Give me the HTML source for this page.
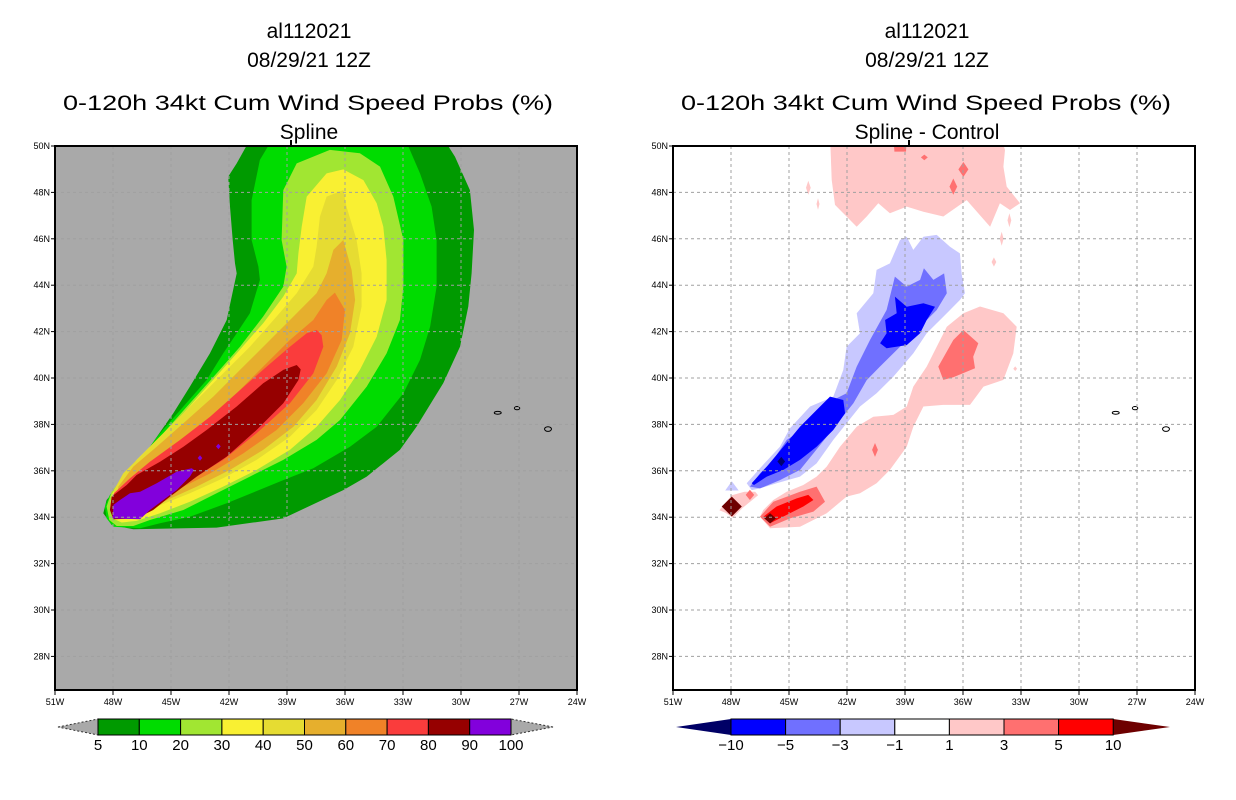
<!DOCTYPE html>
<html><head><meta charset="utf-8">
<style>
html,body{margin:0;padding:0;background:#fff;}
svg{display:block;font-family:"Liberation Sans","DejaVu Sans",sans-serif;}
</style></head>
<body>
<svg id="chart" width="1236" height="800" viewBox="0 0 1236 800" xmlns="http://www.w3.org/2000/svg">
  <defs>
    <clipPath id="clipL"><rect x="55" y="146" width="522" height="544"/></clipPath>
    <clipPath id="clipR"><rect x="673" y="146" width="522" height="544"/></clipPath>
  </defs>
  <g font-size="21" text-anchor="middle" fill="#000">
    <text x="309" y="38">al112021</text>
    <text x="309" y="67">08/29/21 12Z</text>
    <text x="308" y="110" textLength="490" lengthAdjust="spacingAndGlyphs">0-120h 34kt Cum Wind Speed Probs (%)</text>
    <text x="309" y="139">Spline</text>
  </g>
  <g font-size="21" text-anchor="middle" fill="#000">
    <text x="927" y="38">al112021</text>
    <text x="927" y="67">08/29/21 12Z</text>
    <text x="926" y="110" textLength="490" lengthAdjust="spacingAndGlyphs">0-120h 34kt Cum Wind Speed Probs (%)</text>
    <text x="927" y="139">Spline - Control</text>
  </g>
  <rect x="55" y="146" width="522" height="544" fill="#a9a9a9"/>
  <g id="leftContours" clip-path="url(#clipL)"></g>
  <rect x="673" y="146" width="522" height="544" fill="#ffffff"/>
  <g id="rightContours" clip-path="url(#clipR)"></g>
  <g id="axes"></g>
  <g id="bars"></g>
</svg>
<script>
// ---------- axis data ----------
const lonTicks = [51,48,45,42,39,36,33,30,27,24];
const latTicks = [50,48,46,44,42,40,38,36,34,32,30,28];
const leftLevels = [5,10,20,30,40,50,60,70,80,90,100];
const leftColors = ["#009a00","#00dc00","#a1e632","#f9f032","#e6dc32","#e6af2d","#f08228","#fa3c3c","#960000","#8200dc"];
const rightLevels = [-10,-5,-3,-1,1,3,5,10];
const rightColors = ["#0000ff","#7070ff","#c8c8ff","#ffffff","#ffc8c8","#ff7070","#ff0000"];

// ---------- left panel contour polygons (lon W, lat N) ----------
const p05 = [[41.1,50.5],[41.1,50],[41.6,49.25],[42.04,48.68],[41.95,47.39],[41.81,45.95],[41.69,44.94],[41.6,44.51],[41.86,43.51],[42.12,42.5],[42.99,41.06],[44.02,39.63],[44.88,38.48],[46.09,37.04],[47.29,35.75],[48.33,34.74],[48.5,34.17],[48.07,33.67],[46.95,33.48],[42.64,33.55],[39.19,33.95],[36.09,35.17],[34.88,35.75],[33.16,36.9],[32.3,37.9],[30.92,39.77],[30.05,41.35],[29.62,43.08],[29.45,44.51],[29.33,46.38],[29.54,48.1],[30.31,49.54],[30.66,50],[30.66,50.5]];
const p10 = [[39.97,50.5],[39.97,50],[40.4,49.4],[40.83,47.67],[40.83,45.95],[40.48,44.8],[40.4,44.23],[40.92,42.79],[41.6,41.93],[42.3,41.06],[43.16,39.91],[44.36,38.77],[45.57,37.62],[46.6,36.47],[47.47,35.6],[48.16,34.96],[48.42,34.46],[48.33,33.95],[47.98,33.59],[46.6,33.52],[45.57,33.74],[44.02,34.02],[42.12,34.6],[39.19,35.6],[37.64,36.11],[35.74,37.04],[34.36,37.9],[32.98,39.34],[32.12,40.78],[31.6,42.21],[31.26,43.94],[31.26,45.95],[31.52,47.39],[32.12,48.82],[32.73,50],[32.73,50.5]];
const p20 = [[38.5,49.25],[39.19,48.1],[39.28,45.95],[39.02,44.8],[39.19,43.94],[40.23,42.65],[41.43,41.35],[42.64,40.2],[44.02,38.91],[45.4,37.62],[46.6,36.61],[47.47,35.75],[48.07,35.1],[48.33,34.46],[48.19,33.88],[47.81,33.62],[46.95,33.62],[46.09,33.88],[44.36,34.31],[42.64,35.03],[40.92,35.75],[39.19,36.47],[37.47,37.33],[36.26,38.19],[34.88,39.63],[33.85,41.06],[33.16,42.5],[32.98,43.94],[32.98,45.95],[33.5,47.82],[34.19,49.11],[35.23,49.69],[36.78,49.83]];
const p30 = [[36.95,48.82],[37.98,47.82],[38.24,46.52],[38.41,45.37],[38.5,44.51],[39.19,43.51],[40.23,42.36],[41.6,41.06],[42.98,39.77],[44.36,38.48],[45.74,37.33],[46.78,36.47],[47.64,35.6],[48.07,34.96],[48.16,34.46],[48.02,33.95],[47.55,33.77],[46.78,33.84],[45.57,34.17],[44.02,34.67],[42.3,35.32],[40.57,36.04],[38.85,36.9],[37.47,37.9],[36.26,39.05],[35.23,40.35],[34.36,41.78],[33.85,43.36],[33.85,45.08],[34.02,46.52],[34.36,47.53],[35.05,48.53],[36.09,48.99]];
const p40 = [[36.09,48.1],[36.95,47.82],[37.3,46.95],[37.47,45.66],[37.64,44.8],[38.5,43.65],[39.54,42.65],[40.92,41.35],[42.3,40.2],[43.85,38.91],[45.23,37.76],[46.43,36.75],[47.47,35.89],[47.95,35.17],[48.04,34.46],[47.86,34.02],[47.12,33.98],[45.74,34.46],[44.02,35.03],[42.3,35.68],[40.57,36.47],[38.85,37.47],[37.47,38.62],[36.43,39.91],[35.57,41.35],[35.14,43.08],[35.14,44.51],[35.4,45.95],[35.92,47.39]];
const p50 = [[36.09,45.95],[36.6,45.52],[36.95,44.51],[37.47,43.65],[38.5,42.79],[39.88,41.64],[41.26,40.49],[42.81,39.2],[44.36,38.05],[45.74,37.04],[46.95,36.18],[47.72,35.32],[47.9,34.53],[47.69,34.1],[46.78,34.17],[45.4,34.67],[43.67,35.32],[41.95,36.04],[40.23,36.9],[38.67,37.9],[37.47,39.05],[36.43,40.49],[35.74,41.93],[35.48,43.36],[35.66,44.66]];
const p60 = [[36.52,43.68],[36.95,43.36],[37.64,42.5],[38.85,41.64],[40.23,40.49],[41.6,39.34],[43.16,38.19],[44.71,37.19],[46.09,36.32],[47.12,35.6],[47.78,34.89],[47.78,34.31],[47.29,34.2],[46.09,34.6],[44.71,35.17],[42.98,35.89],[41.26,36.75],[39.54,37.76],[38.16,38.91],[36.95,40.2],[36.17,41.64],[36.0,42.93]];
const p70 = [[37.47,42.07],[37.98,41.93],[38.85,41.35],[40.05,40.49],[41.43,39.48],[42.98,38.33],[44.53,37.33],[46.09,36.39],[47.12,35.68],[47.95,35.03],[48.07,34.38],[47.81,33.99],[46.86,34.17],[45.74,34.74],[44.02,35.6],[42.3,36.47],[40.57,37.62],[38.85,38.91],[37.64,40.2],[37.12,41.35],[37.21,41.85]];
const p80 = [[38.5,40.56],[39.19,40.35],[40.23,39.77],[41.6,38.77],[43.16,37.76],[44.36,37.04],[45.57,36.39],[46.78,35.82],[47.29,35.39],[48.07,34.89],[48.16,34.31],[47.98,33.91],[46.78,33.95],[45.92,34.31],[45.05,34.89],[43.67,35.75],[42.12,36.61],[40.57,37.76],[39.19,38.91],[38.41,39.91],[38.29,40.37]];
const p90 = [[43.93,36.11],[44.71,35.96],[45.74,35.46],[46.6,35.1],[47.12,35.03],[47.64,34.74],[47.98,34.53],[48.02,33.95],[46.6,33.91],[46.09,34.31],[45.4,34.74],[44.71,35.17],[44.02,35.75],[43.81,36.04]];
const p90dots = [[43.5,36.55],[42.55,37.05]];

// ---------- right panel difference polygons ----------
const rPink1 = [[42.88,50.5],[42.79,48.54],[42.62,47.46],[41.5,46.52],[40.98,46.96],[40.38,47.53],[39.78,47.1],[38.91,47.39],[38.05,47.17],[37.02,46.96],[35.81,47.67],[34.6,46.52],[34.09,47.53],[33.57,47.24],[33.05,47.53],[33.74,48.25],[33.91,49.11],[33.83,49.83],[34.09,50.5]];
const rPink2 = [[46.5,34.02],[45.98,33.52],[44.43,33.59],[43.05,34.17],[42.02,34.89],[41.33,35.03],[40.47,35.46],[39.78,36.04],[38.91,37.04],[38.57,37.9],[38.05,38.77],[37.02,38.84],[35.64,38.84],[34.94,39.63],[33.91,39.92],[33.4,41.06],[33.22,42.21],[33.91,42.79],[35.12,43.08],[35.98,42.79],[36.84,42.21],[37.36,41.35],[37.88,40.49],[38.57,39.63],[38.91,38.77],[39.6,38.41],[40.64,38.33],[41.5,37.9],[42.36,37.04],[43.05,36.18],[43.57,35.75],[44.26,35.39],[45.12,35.1],[45.81,34.74],[46.33,34.31]];
const rPink3 = [[48.6,34.3],[47.96,34.95],[47.3,35.1],[46.75,35.1],[46.6,34.95],[47.4,34.4],[47.9,33.98],[48.3,34.2]];
const rMed1 = [[37.02,39.92],[37.28,40.49],[36.5,41.64],[35.98,42.07],[35.21,41.5],[35.47,40.92],[35.38,40.42],[36.5,40.03]];
const rMed2 = [[46.5,34.02],[45.81,34.67],[44.43,35.1],[43.57,35.32],[43.14,34.67],[43.74,34.24],[44.95,33.95],[45.98,33.59]];
const rMed3 = [[39.6,50.5],[38.9,50.5],[38.95,49.76],[39.55,49.76]];
const rRed1 = [[46.33,34.02],[45.64,34.46],[44.6,34.81],[44.0,34.96],[43.74,34.74],[44.26,34.46],[45.12,34.1],[45.98,33.74]];
const rBlue1 = [[47.19,35.46],[46.5,36.11],[45.47,37.04],[44.95,37.83],[43.91,38.77],[42.71,39.2],[42.19,40.35],[42.02,41.35],[41.33,41.93],[41.5,42.79],[40.64,43.65],[40.47,44.66],[39.78,44.94],[39.26,45.95],[38.91,46.09],[38.57,45.52],[38.05,46.09],[37.36,46.17],[36.67,45.66],[36.16,45.37],[36.07,44.51],[35.9,43.65],[36.16,43.36],[36.84,42.79],[37.88,41.93],[38.57,41.06],[39.6,40.06],[40.47,39.34],[41.33,38.77],[42.02,38.05],[42.71,37.33],[43.57,36.32],[44.43,35.75],[45.64,35.46],[46.5,35.24],[46.93,35.17]];
const rBlue2 = [[47.02,35.32],[46.5,35.89],[45.81,36.47],[45.12,37.33],[44.09,37.9],[43.05,38.91],[42.02,39.34],[41.5,40.49],[40.81,41.64],[39.95,42.93],[39.52,44.37],[38.91,43.94],[38.22,44.23],[38.02,44.73],[37.53,44.23],[36.98,44.51],[36.84,43.65],[37.36,42.93],[38.22,42.21],[39.26,41.35],[40.3,40.49],[40.98,39.91],[41.67,38.91],[42.36,38.19],[43.05,37.47],[43.74,36.75],[44.43,36.04],[45.47,35.6],[46.5,35.24]];
const rBlue3a = [[46.93,35.46],[46.15,36.18],[45.29,37.04],[44.43,37.9],[43.57,38.62],[42.88,39.2],[42.19,39.05],[42.1,38.48],[42.71,37.76],[43.57,37.04],[44.43,36.47],[45.29,36.04],[46.15,35.75],[46.81,35.39]];
const rBlue3b = [[40.29,41.5],[39.95,41.93],[40.03,42.5],[39.43,42.79],[39.52,43.51],[38.91,43.07],[38.05,43.22],[37.45,43.07],[37.88,42.5],[38.22,41.93],[38.91,41.42],[39.95,41.28]];
const rLightBlueTri = [[47.96,35.55],[47.6,35.15],[48.3,35.15]];
// small diamonds: lon, lat, halfwidth(deg lon), halfheight(deg lat)
const rPinkSpecks = [[44.0,48.2,0.12,0.3],[43.5,47.5,0.08,0.25],[34.0,46.0,0.1,0.3],[34.4,45.0,0.12,0.2],[33.6,46.8,0.1,0.3],[33.3,40.4,0.1,0.1]];
const rMedSpecks = [[35.98,48.99,0.26,0.32],[36.5,48.25,0.2,0.35],[38.0,49.51,0.18,0.12],[40.55,36.9,0.15,0.3],[47.02,34.96,0.22,0.22]];
const rDarkSpecks = [[47.96,34.46,0.52,0.43],[45.98,33.95,0.3,0.22]];
const rNavySpecks = [[45.4,36.4,0.2,0.2]];

// ---------- projection ----------
function xL(lon){ return 55 + (51 - lon) * 522 / 27; }
function xR(lon){ return 673 + (51 - lon) * 522 / 27; }
function yM(lat){ return 146 + (50 - lat) * 23.2; }

const NS = "http://www.w3.org/2000/svg";
function mk(tag, attrs, parent){
  const e = document.createElementNS(NS, tag);
  for (const k in attrs) e.setAttribute(k, attrs[k]);
  parent.appendChild(e);
  return e;
}
function poly(pts, fx, fill, parent, name){
  const d = pts.map(p => fx(p[0]).toFixed(1) + "," + yM(p[1]).toFixed(1)).join(" ");
  const e = mk("polygon", {points: d, fill: fill}, parent);
  
  
  return e;
}
function diamond(s, fx, fill, parent, name){
  const pts = [[s[0], s[1]+s[3]],[s[0]-s[2], s[1]],[s[0], s[1]-s[3]],[s[0]+s[2], s[1]]];
  return poly(pts, fx, fill, parent, name);
}

// left contours
const L = document.getElementById("leftContours");
const leftPolys = [p05,p10,p20,p30,p40,p50,p60,p70,p80,p90];
leftPolys.forEach((p, i) => {
  poly(p, xL, leftColors[i], L, "contour-" + leftLevels[i] + "-pct");
});
p90dots.forEach(d => diamond([d[0], d[1], 0.12, 0.12], xL, leftColors[9], L, "contour-90-pct-spot"));

// right contours
const R = document.getElementById("rightContours");
poly(rPink1, xR, rightColors[4], R, "positive-1-3-north");
poly(rPink2, xR, rightColors[4], R, "positive-1-3-south");
poly(rPink3, xR, rightColors[4], R, "positive-1-3-tail");
rPinkSpecks.forEach(s => diamond(s, xR, rightColors[4], R, "positive-1-3-speck"));
poly(rMed1, xR, rightColors[5], R, "positive-3-5-east");
poly(rMed2, xR, rightColors[5], R, "positive-3-5-tail");
poly(rMed3, xR, rightColors[5], R, "positive-3-5-top");
rMedSpecks.forEach(s => diamond(s, xR, rightColors[5], R, "positive-3-5-speck"));
poly(rRed1, xR, rightColors[6], R, "positive-5-10-tail");
rDarkSpecks.forEach(s => diamond(s, xR, "#6e0000", R, "positive-over-10-spot"));
poly(rBlue1, xR, rightColors[2], R, "negative-1-3");
poly(rLightBlueTri, xR, rightColors[2], R, "negative-1-3-speck");
poly(rBlue2, xR, rightColors[1], R, "negative-3-5");
poly(rBlue3a, xR, rightColors[0], R, "negative-5-10-south");
poly(rBlue3b, xR, rightColors[0], R, "negative-5-10-north");
rNavySpecks.forEach(s => diamond(s, xR, "#000070", R, "negative-under-10-spot"));

// islands (Azores-like outlines)
const islands = [[28.1,38.5,0.18,0.06],[27.1,38.7,0.14,0.07],[25.5,37.8,0.18,0.1]];
[[xL,L],[xR,R]].forEach(([fx, g]) => {
  islands.forEach(s => {
    const e = mk("ellipse", {cx: fx(s[0]), cy: yM(s[1]), rx: s[2]*19.33, ry: s[3]*23.2, fill: "none", stroke: "#000", "stroke-width": 1}, g);
    
    
  });
});

// axes, grids, frames
const A = document.getElementById("axes");
[[xL,55],[xR,673]].forEach(([fx, x0], pi) => {
  const side = pi === 0 ? "left" : "right";
  const g = mk("g", {}, A);
  
  
  lonTicks.forEach(lon => {
    const x = fx(lon);
    if (lon < 51 && lon > 24) {
      const gl = mk("line", {x1: x, y1: 146, x2: x, y2: 690, stroke: "#a0a0a0", "stroke-width": 1, "stroke-dasharray": "3,3"}, g);
      
      
    }
    const tk = mk("line", {x1: x, y1: 690, x2: x, y2: 695, stroke: "#000", "stroke-width": 1}, g);
    
    
    const t = mk("text", {x: x, y: 705, "font-size": 9, "text-anchor": "middle", fill: "#000"}, g);
    t.textContent = lon + "W";
    
    
  });
  latTicks.forEach(lat => {
    const y = yM(lat);
    if (lat < 50) {
      const gl = mk("line", {x1: x0, y1: y, x2: x0 + 522, y2: y, stroke: "#a0a0a0", "stroke-width": 1, "stroke-dasharray": "3,3"}, g);
      
      
    }
    const tk = mk("line", {x1: x0 - 4, y1: y, x2: x0, y2: y, stroke: "#000", "stroke-width": 1}, g);
    
    
    const t = mk("text", {x: x0 - 5, y: y + 3, "font-size": 9, "text-anchor": "end", fill: "#000"}, g);
    t.textContent = lat + "N";
    
    
  });
  const topTick = mk("line", {x1: fx(39) + 4, y1: 140, x2: fx(39) + 4, y2: 146, stroke: "#000", "stroke-width": 2}, g);
  
  
  const fr = mk("rect", {x: x0, y: 146, width: 522, height: 544, fill: "none", stroke: "#000", "stroke-width": 2}, g);
  
  
});

// colorbars
const B = document.getElementById("bars");
function colorbar(x0, w, n, colors, lowTri, highTri, tipL, tipR, levels, name, triStroke){
  const g = mk("g", {}, B);
  
  
  const yt = 719, yb = 735, ym = 727;
  const lt = mk("polygon", {points: `${tipL},${ym} ${x0},${yt} ${x0},${yb}`, fill: lowTri, stroke: triStroke, "stroke-width": 1, "stroke-dasharray": "2,2"}, g);
  
  
  const x1 = x0 + w * n;
  const rt = mk("polygon", {points: `${tipR},${ym} ${x1},${yt} ${x1},${yb}`, fill: highTri, stroke: triStroke, "stroke-width": 1, "stroke-dasharray": "2,2"}, g);
  
  
  colors.forEach((c, i) => {
    const r = mk("rect", {x: x0 + i * w, y: yt, width: w, height: yb - yt, fill: c, stroke: "#000", "stroke-width": 1}, g);
    
    
  });
  levels.forEach((lv, i) => {
    const t = mk("text", {x: x0 + i * w, y: 750, "font-size": 15, "text-anchor": "middle", fill: "#000"}, g);
    t.textContent = lv < 0 ? "\u2212" + Math.abs(lv) : String(lv);
    
    
  });
}
colorbar(98, 41.3, 10, leftColors, "#a9a9a9", "#a9a9a9", 58, 553, leftLevels, "left-colorbar", "#333");
colorbar(731, 54.6, 7, rightColors, "#000066", "#6e0000", 676, 1170, rightLevels, "right-colorbar", "none");
</script>
</body></html>
